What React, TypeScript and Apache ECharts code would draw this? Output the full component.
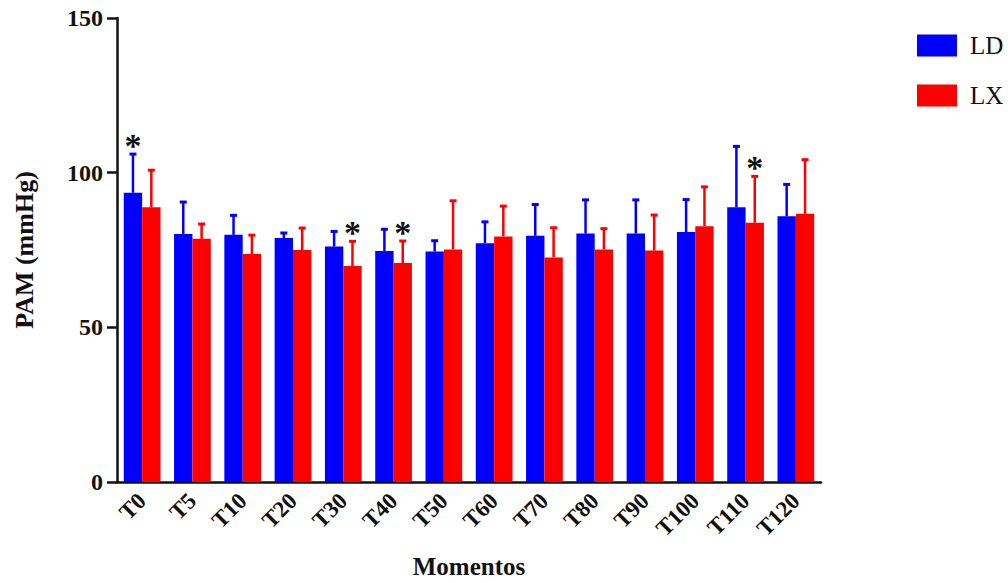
import React, { useEffect, useRef } from "react";
import * as echarts from "echarts";

const categories = ["T0", "T5", "T10", "T20", "T30", "T40", "T50", "T60", "T70", "T80", "T90", "T100", "T110", "T120"];
const ldMean = [93.5, 80.2, 79.9, 78.9, 76.1, 74.7, 74.5, 77.2, 79.6, 80.3, 80.3, 80.8, 88.8, 85.9];
const ldSD = [12.5, 10.3, 6.3, 1.6, 4.9, 7.0, 3.5, 6.9, 10.1, 10.9, 10.9, 10.5, 19.7, 10.3];
const lxMean = [88.8, 78.6, 73.7, 75.0, 69.8, 70.8, 75.2, 79.4, 72.6, 75.2, 74.8, 82.7, 83.8, 86.7];
const lxSD = [12.0, 4.8, 6.1, 7.1, 8.0, 7.1, 15.7, 9.8, 9.6, 6.7, 11.5, 12.7, 15.0, 17.5];
const ldSignificant = ["T0"];
const lxSignificant = ["T30", "T40", "T110"];
const yTicks = [0, 50, 100, 150];

const BLUE = "#0000FF";
const RED = "#FF0000";
const FONT = "Liberation Serif";

export default function App() {
  const ref = useRef<HTMLDivElement>(null);
  useEffect(() => {
    const chart = echarts.init(ref.current!, null, { renderer: "svg" });
    const errData: number[][] = [];
    categories.forEach((c, i) => {
      errData.push([i, ldMean[i], ldMean[i] + ldSD[i], 0, ldSignificant.includes(c) ? 1 : 0]);
      errData.push([i, lxMean[i], lxMean[i] + lxSD[i], 1, lxSignificant.includes(c) ? 1 : 0]);
    });
    const gapPct = 27;
    chart.setOption({
      animation: false,
      backgroundColor: "#fff",
      grid: { left: 117, right: 187, top: 18, bottom: 101, containLabel: false, outerBoundsMode: "none" },
      legend: {
        orient: "vertical",
        left: 912,
        top: 28,
        itemWidth: 40,
        itemHeight: 22,
        itemGap: 25,
        icon: "rect",
        data: ["LD", "LX"],
        textStyle: { fontFamily: FONT, fontSize: 25, lineHeight: 22, color: "#111", padding: [0, 0, 0, 8] },
      },
      xAxis: {
        type: "category",
        data: categories,
        name: "Momentos",
        nameLocation: "middle",
        nameGap: 72,
        nameTextStyle: { fontFamily: FONT, fontWeight: "bold", fontSize: 25, lineHeight: 25, color: "#111" },
        axisLine: { lineStyle: { color: "#111", width: 2.5 } },
        axisTick: { alignWithLabel: true, length: 8, lineStyle: { color: "#111", width: 2.5 } },
        axisLabel: { rotate: 45, fontFamily: FONT, fontWeight: "bold", fontSize: 23, color: "#111", margin: 15, interval: 0 },
      },
      yAxis: {
        type: "value",
        min: yTicks[0],
        max: yTicks[yTicks.length - 1],
        interval: 50,
        name: "PAM (mmHg)",
        nameLocation: "middle",
        nameRotate: 90,
        nameGap: 80,
        nameTextStyle: { fontFamily: FONT, fontWeight: "bold", fontSize: 26, color: "#111" },
        axisLine: { show: true, lineStyle: { color: "#111", width: 2.5 } },
        axisTick: { show: true, length: 10, lineStyle: { color: "#111", width: 2.5 } },
        axisLabel: { fontFamily: FONT, fontWeight: "bold", fontSize: 24, color: "#111", margin: 14 },
        splitLine: { show: false },
      },
      series: [
        { name: "LD", type: "bar", data: ldMean, itemStyle: { color: BLUE }, barGap: "0%", barCategoryGap: gapPct + "%" },
        { name: "LX", type: "bar", data: lxMean, itemStyle: { color: RED }, barGap: "0%", barCategoryGap: gapPct + "%" },
        {
          type: "custom",
          data: errData,
          z: 5,
          encode: { x: 0, y: [1, 2] },
          renderItem: (params: any, api: any) => {
            const i = api.value(0);
            const mean = api.value(1);
            const upper = api.value(2);
            const s = api.value(3);
            const star = api.value(4);
            const band = api.size([1, 0])[0];
            const bw = (band * (1 - gapPct / 100)) / 2;
            const base = api.coord([i, mean]);
            const top = api.coord([i, upper]);
            const x = base[0] + (s === 0 ? -bw / 2 : bw / 2);
            const color = s === 0 ? BLUE : RED;
            const children: any[] = [
              { type: "line", shape: { x1: x, y1: base[1], x2: x, y2: top[1] }, style: { stroke: color, lineWidth: 2.5 } },
              { type: "line", shape: { x1: x - 3.5, y1: top[1], x2: x + 3.5, y2: top[1] }, style: { stroke: color, lineWidth: 3 } },
            ];
            if (star) {
              children.push({
                type: "text",
                x,
                y: top[1] - 9,
                style: { text: "*", fontSize: 34, fontWeight: "bold", fontFamily: FONT, fill: "#111", align: "center", verticalAlign: "middle" },
              });
            }
            return { type: "group", children };
          },
        },
      ],
    });
    return () => chart.dispose();
  }, []);
  return <div ref={ref} style={{ position: "fixed", left: 0, top: 0, width: 1008, height: 583 }} />;
}
